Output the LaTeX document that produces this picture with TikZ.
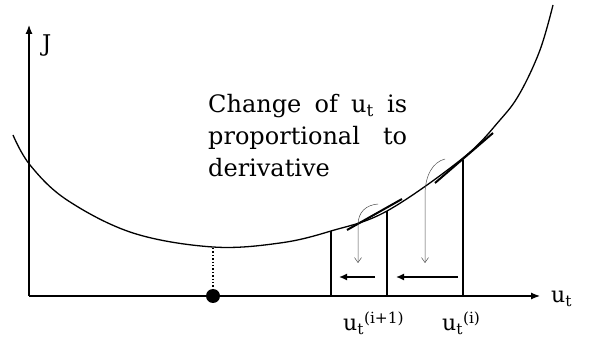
\documentclass[tikz,border=0pt]{standalone}
\usepackage{fontspec}
\setmainfont{DejaVu Serif}
\usetikzlibrary{arrows.meta}
\begin{document}
\begin{tikzpicture}[x=1pt,y=-1pt,
  axis/.style={line width=1.2pt,-{Latex[length=9pt,width=7pt]}},
  curve/.style={line width=1.3pt},
  tang/.style={line width=2pt},
  vline/.style={line width=1.4pt},
  thinarr/.style={line width=0.5pt,gray!60!black,-{Straight Barb[length=5pt,width=7pt]}},
  steparr/.style={line width=1.4pt,-{Latex[length=8pt,width=7pt]}},
  lbl/.style={inner sep=0pt,font=\fontsize{22}{24}\selectfont}]
\useasboundingbox (0,0) rectangle (589,344);
% axes
\coordinate (O) at (29,296);
\coordinate (ytop) at (29,25);
\coordinate (xend) at (540,296);
\draw[axis] (O) -- (ytop);
\draw[axis] (O) -- (xend);
\node[lbl,anchor=base west,font=\fontsize{23}{26}\selectfont] (J) at (42,52) {J};
\node[lbl,anchor=base west] (ut) at (551,303) {u\textsubscript{t}};
% curve
\draw[curve] plot[smooth,tension=0.6] coordinates {(13,135) (30,165) (67,200) (133,233) (213,247) (280,243) (331,231) (387,211) (463,158) (500,120) (520,93) (540,50) (553,5)};
% minimum
\coordinate (mintop) at (213,248);
\node[circle,fill=black,inner sep=0pt,minimum size=14pt] (dot) at (213,296) {};
\draw[dotted,line width=1.4pt] (mintop) -- (dot);
% vertical lines
\coordinate (b1) at (331,296); \coordinate (t1) at (331,231);
\coordinate (b2) at (387,296); \coordinate (t2) at (387,211);
\coordinate (b3) at (463,296); \coordinate (t3) at (463,160);
\draw[vline] (b1) -- (t1);
\draw[vline] (b2) -- (t2);
\draw[vline] (b3) -- (t3);
% tangents
\coordinate (ta1) at (347,230); \coordinate (ta2) at (402,199);
\coordinate (tb1) at (435,183); \coordinate (tb2) at (493,133);
\draw[tang] (ta1) -- (ta2);
\draw[tang] (tb1) -- (tb2);
% curved thin arrows
\coordinate (c1s) at (378,204); \coordinate (c1e) at (358,263);
\coordinate (c2s) at (445,159); \coordinate (c2e) at (425,263);
\draw[thinarr] (c1s) .. controls (366,205) and (358,212) .. (358,225) -- (c1e);
\draw[thinarr] (c2s) .. controls (433,162) and (425,175) .. (425,195) -- (c2e);
% step arrows
\coordinate (h1s) at (375,277); \coordinate (h1e) at (339,277);
\coordinate (h2s) at (458,277); \coordinate (h2e) at (396,277);
\draw[steparr] (h1s) -- (h1e);
\draw[steparr] (h2s) -- (h2e);
% labels
\node[lbl,anchor=base west] (ui1) at (343,331) {u\textsubscript{t}\textsuperscript{(i+1)}};
\node[lbl,anchor=base west] (ui) at (442,331) {u\textsubscript{t}\textsuperscript{(i)}};
\node[lbl,anchor=base west,align=left,font=\fontsize{24}{32}\selectfont] (txt) at (208,177)
  {\hbox to 199pt{Change\hfill of\hfill u\textsubscript{t}\hfill is}\\
   \hbox to 199pt{proportional\hfill to}\\
   derivative};
\end{tikzpicture}
\end{document}
